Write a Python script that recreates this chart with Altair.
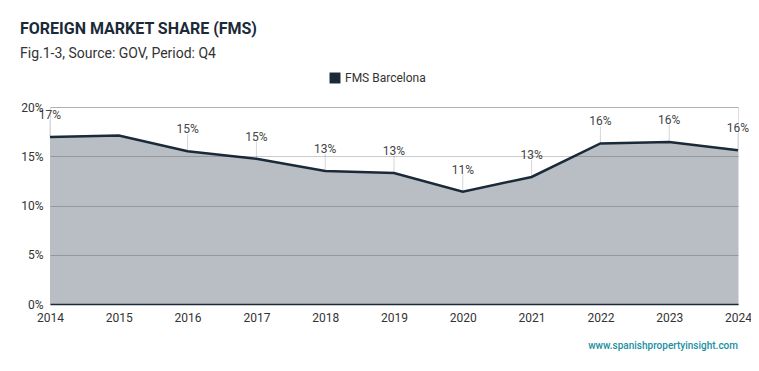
import altair as alt
import pandas as pd

years = [2014, 2015, 2016, 2017, 2018, 2019, 2020, 2021, 2022, 2023, 2024]
fms = [16.95, 17.1, 15.5, 14.75, 13.5, 13.3, 11.4, 12.9, 16.3, 16.45, 15.6]
labels = ["17%", "", "15%", "15%", "13%", "13%", "11%", "13%", "16%", "16%", "16%"]
series = "FMS Barcelona"
y_ticks = [0, 5, 10, 15, 20]
url = "www.spanishpropertyinsight.com"

df = pd.DataFrame({"year": years, "fms": fms, "label": labels, "series": series})

FONT = "Roboto"
DARK = "#1b2a38"

x = alt.X("year:Q", scale=alt.Scale(domain=[2014, 2024], nice=False, zero=False),
          axis=alt.Axis(values=years, format="d", title=None, grid=False, ticks=False,
                        labelFlush=False, labelBound=False, labelPadding=8,
                        domainColor=DARK, domainWidth=1.5, labelFontSize=12,
                        labelColor="#333", labelFont=FONT, zindex=1))
y = alt.Y("fms:Q", scale=alt.Scale(domain=[0, 20], nice=False),
          axis=alt.Axis(values=y_ticks, labelExpr="datum.value + '%'", title=None,
                        domain=False, ticks=False, gridColor="#000", gridOpacity=0.2,
                        labelPadding=7, labelFontSize=12, labelColor="#333",
                        labelFont=FONT, zindex=1))

base = alt.Chart(df)

area = base.mark_area(color="#b9bec5", opacity=1).encode(x=x, y=y)

line = base.mark_line(strokeWidth=2.5).encode(
    x=x, y=y,
    color=alt.Color("series:N", scale=alt.Scale(range=[DARK]),
                    legend=alt.Legend(title=None, orient="none", legendX=279, legendY=-35,
                                      symbolType="square", symbolSize=120,
                                      symbolFillColor=DARK, symbolStrokeWidth=0,
                                      labelFontSize=12, labelColor="#333", labelFont=FONT)))

lab = base.transform_filter("datum.label != ''")

leaders = lab.mark_rule(color="#d5d5d5", strokeWidth=1, y2Offset=-17).encode(
    x=x, y=y, y2="fms:Q")

text = lab.mark_text(dy=-22, fontSize=12, color="#444", font=FONT).encode(
    x=x, y=y, text="label:N")

footer = alt.Chart(pd.DataFrame({"t": [url]})).mark_text(
    align="right", fontSize=10, color="#1a8fa0", font=FONT, fontWeight=500
).encode(text="t:N", x=alt.value(688), y=alt.value(239))

chart = alt.layer(area, leaders, line, text, footer).properties(
    width=688, height=197,
    autosize=alt.AutoSizeParams(type="none"),
    padding={"left": 42, "top": 99, "right": 13, "bottom": 56},
    title=alt.TitleParams(
        text="FOREIGN MARKET SHARE (FMS)",
        subtitle="Fig.1-3, Source: GOV, Period: Q4",
        anchor="start", frame="group", dx=-30, offset=11,
        font=FONT, fontSize=16, fontWeight="bold", color=DARK,
        subtitleFont=FONT, subtitleFontSize=14, subtitleColor="#333",
        subtitlePadding=10),
).configure_view(stroke=None).configure(background="white")

chart.save("out.html", embed_options={"renderer": "svg", "actions": False})
